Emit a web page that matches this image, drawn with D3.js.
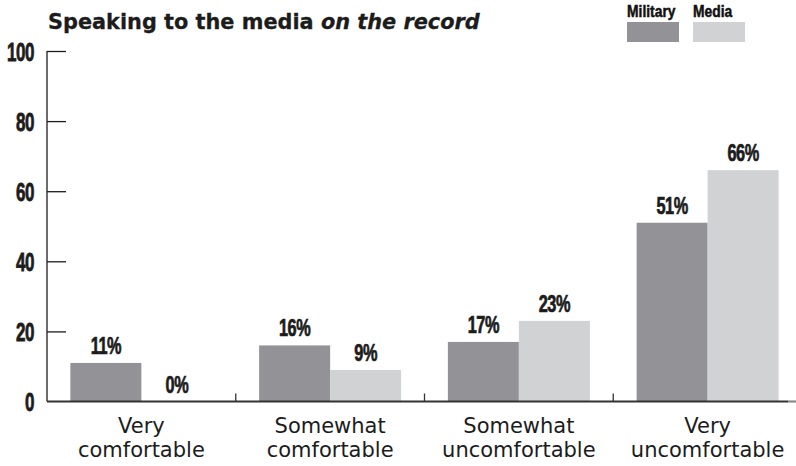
<!DOCTYPE html>
<html>
<head>
<meta charset="utf-8">
<script src="https://cdn.jsdelivr.net/npm/d3@7"></script>
<style>
  html, body { margin: 0; padding: 0; background: #fff; }
  svg { display: block; }
</style>
</head>
<body>
<svg id="chart" width="796" height="466"></svg>
<script>
// Survey: comfort speaking to the media on the record
const categories = [
  ["Very", "comfortable"],
  ["Somewhat", "comfortable"],
  ["Somewhat", "uncomfortable"],
  ["Very", "uncomfortable"]
];
const seriesNames = ["Military", "Media"];
const military = [11, 16, 17, 51];
const media = [0, 9, 23, 66];
const yTicks = [0, 20, 40, 60, 80, 100];

const colors = { Military: "#939397", Media: "#d1d2d4" };
const ink = "#1c1c1c";
const boldFace = "'Liberation Sans', Arial, sans-serif";
const valSqueeze = 0.71;  // horizontal compression for condensed value labels
const tickSqueeze = 0.68; // and for the y-axis numerals

const svg = d3.select("#chart");

const plotLeft = 47, plotRight = 802, plotTop = 51, plotBottom = 401.5;
const catKeys = categories.map(c => c.join(" "));

const x = d3.scaleBand().domain(catKeys).range([plotLeft, plotRight]).paddingInner(0).paddingOuter(0);
const barW = 71;
const pad = (x.bandwidth() / barW - seriesNames.length) / 2;
const xSub = d3.scaleBand().domain(seriesNames).range([0, x.bandwidth()])
  .paddingInner(0).paddingOuter(pad);
const y = d3.scaleLinear().domain([0, 100]).range([plotBottom, plotTop]);

const rows = catKeys.map((k, i) => ({ key: k, Military: military[i], Media: media[i] }));

// Bars
const groups = svg.append("g").selectAll("g").data(rows).join("g")
  .attr("transform", d => `translate(${x(d.key)},0)`);

groups.selectAll("rect").data(d => seriesNames.map(s => ({ s, v: d[s] }))).join("rect")
  .attr("x", d => xSub(d.s))
  .attr("width", xSub.bandwidth())
  .attr("y", d => y(d.v))
  .attr("height", d => y(0) - y(d.v))
  .attr("fill", d => colors[d.s]);

// Value labels
groups.selectAll("text.val").data(d => seriesNames.map(s => ({ s, v: d[s] }))).join("text")
  .attr("class", "val")
  .attr("transform", d => `translate(${xSub(d.s) + xSub.bandwidth() / 2},${y(d.v) - 9}) scale(${valSqueeze},1)`)
  .attr("text-anchor", "middle")
  .style("font-family", boldFace)
  .style("font-weight", "bold")
  .style("font-size", "23px")
  .style("letter-spacing", "-0.6px")
  .attr("fill", ink)
  .attr("stroke", ink)
  .attr("stroke-width", 0.7)
  .text(d => d.v + "%");

// Y axis
const yAxis = d3.axisLeft(y).tickValues(yTicks).tickSize(-19).tickPadding(13);
const yg = svg.append("g").attr("transform", `translate(${plotLeft},0)`).call(yAxis);
yg.select(".domain").remove();
yg.selectAll(".tick line").attr("stroke", ink).attr("stroke-width", 1.3);
yg.selectAll(".tick").filter(d => d === 0).select("line").remove();
yg.selectAll(".tick text")
  .attr("x", -13 / tickSqueeze)
  .attr("dy", "0.36em")
  .attr("transform", `scale(${tickSqueeze},1)`)
  .style("font-family", boldFace)
  .style("font-weight", "bold")
  .style("font-size", "25px")
  .style("letter-spacing", "-0.6px")
  .attr("fill", ink)
  .attr("stroke", ink)
  .attr("stroke-width", 0.8);
svg.append("line")
  .attr("x1", plotLeft).attr("x2", plotLeft)
  .attr("y1", y(100)).attr("y2", y(0))
  .attr("stroke", ink).attr("stroke-width", 1.3);

// X axis baseline with boundary ticks between groups
svg.append("line")
  .attr("x1", plotLeft).attr("x2", 788)
  .attr("y1", y(0)).attr("y2", y(0))
  .attr("stroke", "#333").attr("stroke-width", 2.2);
svg.append("line")
  .attr("x1", 788).attr("x2", 796)
  .attr("y1", y(0)).attr("y2", y(0))
  .attr("stroke", "#8a8a8a").attr("stroke-width", 2.2);

svg.append("g").selectAll("line").data(catKeys.slice(1)).join("line")
  .attr("x1", d => x(d)).attr("x2", d => x(d))
  .attr("y1", y(0) - 8).attr("y2", y(0))
  .attr("stroke", "#333").attr("stroke-width", 1.3);

// Category labels
svg.append("g").selectAll("text").data(categories).join("text")
  .attr("x", (d, i) => x(catKeys[i]) + x.bandwidth() / 2)
  .attr("y", 433)
  .attr("text-anchor", "middle")
  .style("font-family", "'DejaVu Sans', sans-serif")
  .style("font-size", "21px")
  .attr("fill", ink)
  .each(function(d) {
    const t = d3.select(this);
    d.forEach((line, j) => {
      t.append("tspan")
        .attr("x", t.attr("x"))
        .attr("dy", j === 0 ? 0 : 24)
        .text(line);
    });
  });

// Title, stretched to its set width
const titleX = 48, titleW = 432;
const title = svg.append("text")
  .attr("x", 0).attr("y", 0)
  .style("font-family", "'DejaVu Sans', sans-serif")
  .style("font-weight", "bold")
  .style("font-size", "21.5px")
  .attr("fill", ink)
  .attr("stroke", ink)
  .attr("stroke-width", 0.3);
title.append("tspan").text("Speaking to the media ");
title.append("tspan").style("font-style", "italic").text("on the record");
const tw = title.node().getComputedTextLength();
title.attr("transform", `translate(${titleX},29) scale(${titleW / tw},1)`);

// Legend
const legendX = { Military: 627, Media: 693 };
const legend = svg.append("g").selectAll("g").data(seriesNames).join("g")
  .attr("transform", d => `translate(${legendX[d]},0)`);
legend.append("rect")
  .attr("x", 0).attr("y", 22).attr("width", 52).attr("height", 20)
  .attr("fill", d => colors[d]);
legend.append("text")
  .attr("transform", "translate(0,17) scale(0.84,1)")
  .style("font-family", boldFace)
  .style("font-weight", "bold")
  .style("font-size", "16.5px")
  .attr("fill", "#111")
  .attr("stroke", "#111")
  .attr("stroke-width", 0.5)
  .text(d => d);
</script>
</body>
</html>
